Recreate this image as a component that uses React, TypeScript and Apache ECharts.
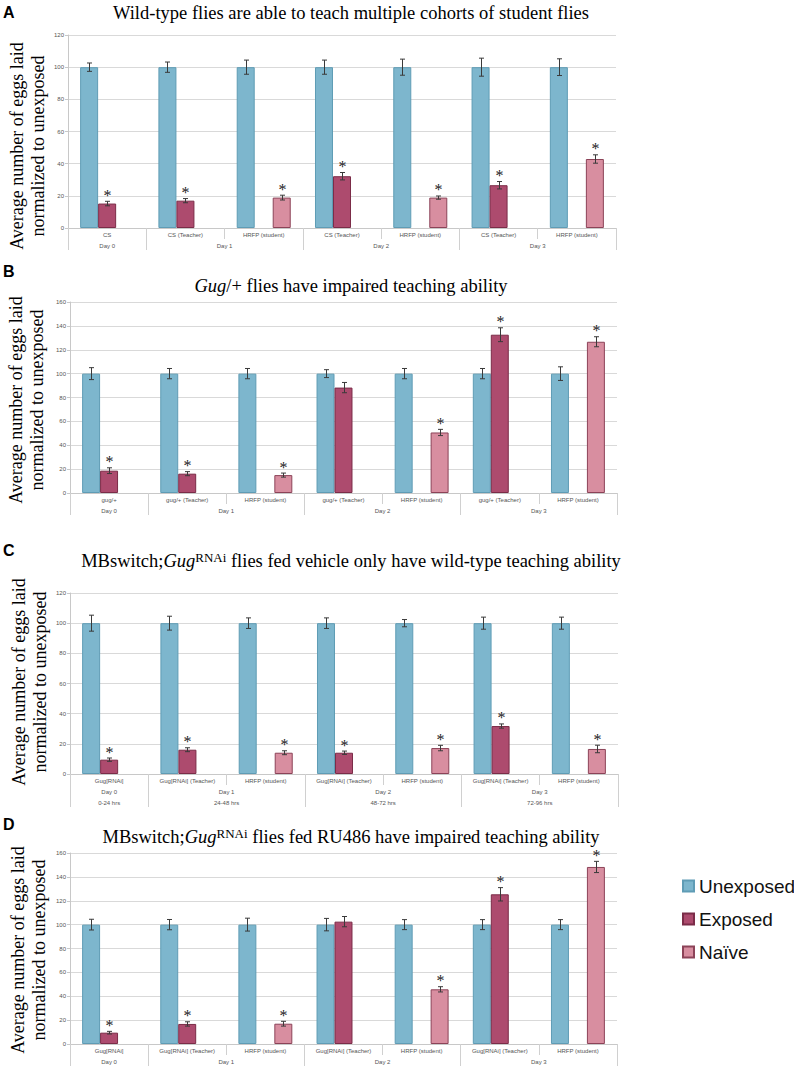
import React, { useEffect, useRef } from "react";
import * as echarts from "echarts";

const SERIF = '"Liberation Serif", "Times New Roman", serif';
const SANS = '"Liberation Sans", Arial, Helvetica, sans-serif';

// ---------- data ----------
const seriesNames = ["Unexposed", "Exposed", "Naïve"];
const days = ["Day 0", "Day 1", "Day 2", "Day 3"];
const hrsC = ["0-24 hrs", "24-48 hrs", "48-72 hrs", "72-96 hrs"];
const dayCenters = [0.5, 2, 4, 6];
const dayBounds = [0, 1, 3, 5, 7];

const catsA = ["CS", "CS (Teacher)", "HRFP (student)", "CS (Teacher)", "HRFP (student)", "CS (Teacher)", "HRFP (student)"];
const unexpA = [100, 100, 100, 100, 100, 100, 100];
const unexpErrA = [2.6, 3.2, 4.4, 4.4, 5.0, 5.6, 5.2];
const exposedA = [15.2, 17, null, 32.2, null, 26.6, null];
const exposedErrA = [1.4, 1.3, null, 2.3, null, 2.3, null];
const naiveA = [null, null, 18.9, null, 18.9, null, 42.9];
const naiveErrA = [null, null, 1.5, null, 1.0, null, 2.6];
const sigExposedA = [1, 1, 0, 1, 0, 1, 0];
const sigNaiveA = [0, 0, 1, 0, 1, 0, 1];

const catsB = ["gug/+", "gug/+ (Teacher)", "HRFP (student)", "gug/+ (Teacher)", "HRFP (student)", "gug/+ (Teacher)", "HRFP (student)"];
const unexpB = [100, 100, 100, 100, 100, 100, 100];
const unexpErrB = [5.0, 4.3, 4.3, 3.3, 4.3, 4.3, 5.7];
const exposedB = [18.7, 16.2, null, 88.3, null, 132.6, null];
const exposedErrB = [2.4, 1.7, null, 4.3, null, 5.8, null];
const naiveB = [null, null, 15, null, 50.7, null, 126.7];
const naiveErrB = [null, null, 1.7, null, 2.6, null, 4.2];
const sigExposedB = [1, 1, 0, 0, 0, 1, 0];
const sigNaiveB = [0, 0, 1, 0, 1, 0, 1];

const catsC = ["Gug[RNAi]", "Gug[RNAi] (Teacher)", "HRFP (student)", "Gug[RNAi] (Teacher)", "HRFP (student)", "Gug[RNAi] (Teacher)", "HRFP (student)"];
const unexpC = [100, 100, 100, 100, 100, 100, 100];
const unexpErrC = [5.3, 4.6, 3.5, 3.5, 2.4, 4.0, 4.0];
const exposedC = [9.5, 16.1, null, 14.1, null, 31.8, null];
const exposedErrC = [1.1, 1.3, null, 1.1, null, 1.4, null];
const naiveC = [null, null, 14.1, null, 17.2, null, 16.6];
const naiveErrC = [null, null, 1.3, null, 1.8, null, 2.5];
const sigExposedC = [1, 1, 0, 1, 0, 1, 0];
const sigNaiveC = [0, 0, 1, 0, 1, 0, 1];

const catsD = ["Gug[RNAi]", "Gug[RNAi] (Teacher)", "HRFP (student)", "Gug[RNAi] (Teacher)", "HRFP (student)", "Gug[RNAi] (Teacher)", "HRFP (student)"];
const unexpD = [100, 100, 100, 100, 100, 100, 100];
const unexpErrD = [4.5, 4.3, 5.4, 5.2, 4.2, 4.2, 4.2];
const exposedD = [9.5, 16.8, null, 102.5, null, 125.4, null];
const exposedErrD = [1.1, 1.8, null, 4.3, null, 5.6, null];
const naiveD = [null, null, 17, null, 45.8, null, 148.3];
const naiveErrD = [null, null, 2.0, null, 2.2, null, 4.7];
const sigExposedD = [1, 1, 0, 0, 0, 1, 0];
const sigNaiveD = [0, 0, 1, 0, 1, 0, 1];

const yMaxes = [120, 160, 120, 160];

// ---------- layout / style ----------
const grids = [
  { left: 68, top: 35, width: 548, height: 193 },
  { left: 70, top: 302, width: 547, height: 191 },
  { left: 70, top: 593, width: 548, height: 181 },
  { left: 70, top: 853, width: 547, height: 191 },
];
const colors = ["#7db6cd", "#ad4b6e", "#d88ea0"];
const borders = ["#5f9cb5", "#7b2c48", "#8c4358"];
const GAP = 0.31;

const titles = [
  "Wild-type flies are able to teach multiple cohorts of student flies",
  "{i|Gug}/+ flies have impaired teaching ability",
  "MBswitch;{i|Gug}{sup|RNAi} flies fed vehicle only have wild-type teaching ability",
  "MBswitch;{i|Gug}{sup|RNAi} flies fed RU486 have impaired teaching ability",
];
const titleY = [13, 286, 561, 837];
const letters = ["A", "B", "C", "D"];
const letterY = [12.5, 271, 550, 824];
const yTitleX = [27, 26, 29, 28];
const yTitleY = [146, 400, 682, 950];

const panels = [
  { cats: catsA, vals: [unexpA, exposedA, naiveA], errs: [unexpErrA, exposedErrA, naiveErrA], sig: [null, sigExposedA, sigNaiveA], extra: null },
  { cats: catsB, vals: [unexpB, exposedB, naiveB], errs: [unexpErrB, exposedErrB, naiveErrB], sig: [null, sigExposedB, sigNaiveB], extra: null },
  { cats: catsC, vals: [unexpC, exposedC, naiveC], errs: [unexpErrC, exposedErrC, naiveErrC], sig: [null, sigExposedC, sigNaiveC], extra: hrsC },
  { cats: catsD, vals: [unexpD, exposedD, naiveD], errs: [unexpErrD, exposedErrD, naiveErrD], sig: [null, sigExposedD, sigNaiveD], extra: null },
];

function buildOption() {
  const grid: any[] = [];
  const xAxis: any[] = [];
  const yAxis: any[] = [];
  const series: any[] = [];
  const graphic: any[] = [];
  const tickColor = "#d0d0d0";
  const labelStyle = { fontSize: 6, color: "#555", fontFamily: SANS };

  panels.forEach((p, g) => {
    grid.push({ ...grids[g], containLabel: false });
    const xMain = xAxis.length;
    xAxis.push({
      type: "category",
      gridIndex: g,
      data: p.cats,
      axisLine: { lineStyle: { color: "#c8c8c8" } },
      axisTick: { show: true, length: 11, lineStyle: { color: tickColor } },
      axisLabel: { ...labelStyle, interval: 0, margin: 4 },
      splitLine: { show: false },
    });
    const rows = p.extra ? [days, p.extra] : [days];
    rows.forEach((labels, r) => {
      xAxis.push({
        type: "value",
        gridIndex: g,
        position: "bottom",
        offset: 11 * (r + 1),
        min: 0,
        max: 7,
        axisLine: { show: false },
        splitLine: { show: false },
        axisTick: { show: true, customValues: dayBounds, length: 11, lineStyle: { color: tickColor } },
        axisLabel: {
          ...labelStyle,
          margin: 4,
          customValues: dayCenters,
          formatter: (v: number) => {
            const k = dayCenters.indexOf(v);
            return k >= 0 ? labels[k] : "";
          },
        },
      });
    });
    yAxis.push({
      type: "value",
      gridIndex: g,
      min: 0,
      max: yMaxes[g],
      interval: 20,
      axisLine: { show: true, lineStyle: { color: "#c8c8c8" } },
      axisTick: { show: true, length: 3, lineStyle: { color: "#c8c8c8" } },
      splitLine: { lineStyle: { color: "#d9d9d9" } },
      axisLabel: { ...labelStyle, margin: 4 },
    });

    const errData: any[] = [];
    p.vals.forEach((vals, s) => {
      series.push({
        type: "bar",
        name: seriesNames[s],
        xAxisIndex: xMain,
        yAxisIndex: g,
        data: vals,
        barGap: "0%",
        barCategoryGap: GAP * 100 + "%",
        itemStyle: { color: colors[s], borderColor: borders[s], borderWidth: 1 },
        emphasis: { disabled: true },
      });
      vals.forEach((v, i) => {
        if (v === null || v === undefined) return;
        const e = p.errs[s][i] || 0;
        const sg = p.sig[s] ? p.sig[s]![i] : 0;
        errData.push([i, v, e, s, sg]);
      });
    });
    series.push({
      type: "custom",
      xAxisIndex: xMain,
      yAxisIndex: g,
      z: 5,
      data: errData,
      encode: { x: 0, y: 1 },
      renderItem: (params: any, api: any) => {
        const x = api.value(0);
        const v = api.value(1);
        const e = api.value(2);
        const slot = api.value(3);
        const sg = api.value(4);
        const band = api.size([1, 0])[0];
        const bw = (band * (1 - GAP)) / 3;
        const c = api.coord([x, v]);
        const cx = Math.round(c[0] + (slot - 1) * bw) + 0.5;
        const top = api.coord([x, v + e])[1];
        const bot = api.coord([x, v - e])[1];
        const ls = { stroke: "#3a3a3a", lineWidth: 1 };
        const children: any[] = [
          { type: "line", shape: { x1: cx, y1: top, x2: cx, y2: bot }, style: ls },
          { type: "line", shape: { x1: cx - 2.5, y1: top, x2: cx + 2.5, y2: top }, style: ls },
          { type: "line", shape: { x1: cx - 2.5, y1: bot, x2: cx + 2.5, y2: bot }, style: ls },
        ];
        if (sg) {
          children.push({
            type: "text",
            x: cx,
            y: top - 6,
            style: { text: "*", fontSize: 16, lineHeight: 10, fontFamily: SERIF, fill: "#222", align: "center", verticalAlign: "middle" },
          });
        }
        return { type: "group", children };
      },
    });

    graphic.push({
      type: "text",
      x: 351,
      y: titleY[g],
      style: {
        text: titles[g],
        fontSize: 18.5,
        fontFamily: SERIF,
        fill: "#000",
        lineHeight: 20,
        align: "center",
        verticalAlign: "middle",
        rich: {
          i: { fontSize: 18.5, fontFamily: SERIF, fontStyle: "italic", fill: "#000", lineHeight: 20 },
          sup: { fontSize: 13, fontFamily: SERIF, fill: "#000", lineHeight: 15, verticalAlign: "top" },
        },
      },
    });
    graphic.push({
      type: "text",
      x: 3,
      y: letterY[g],
      style: { text: letters[g], fontSize: 16, fontWeight: "bold", fontFamily: SANS, fill: "#000", align: "left", verticalAlign: "middle" },
    });
    graphic.push({
      type: "text",
      x: yTitleX[g],
      y: yTitleY[g],
      rotation: Math.PI / 2,
      style: {
        text: "Average number of eggs laid\nnormalized to unexposed",
        fontSize: 18,
        lineHeight: 21,
        fontFamily: SERIF,
        fill: "#000",
        align: "center",
        verticalAlign: "middle",
      },
    });
  });

  return {
    animation: false,
    backgroundColor: "#fff",
    grid,
    xAxis,
    yAxis,
    series,
    graphic,
    legend: {
      orient: "vertical",
      left: 682,
      top: 875,
      padding: 0,
      itemWidth: 11,
      itemHeight: 11,
      itemGap: 11,
      icon: "rect",
      selectedMode: false,
      data: seriesNames,
      textStyle: { fontSize: 19, fontFamily: SANS, color: "#111", lineHeight: 22 },
    },
  };
}

export default function App() {
  const ref = useRef<HTMLDivElement>(null);
  useEffect(() => {
    if (!ref.current) return;
    const chart = echarts.init(ref.current, undefined, { renderer: "svg" });
    chart.setOption(buildOption() as any);
    return () => chart.dispose();
  }, []);
  return (
    <div
      ref={ref}
      style={{ position: "absolute", left: 0, top: 0, width: 794, height: 1067, background: "#fff" }}
    />
  );
}
